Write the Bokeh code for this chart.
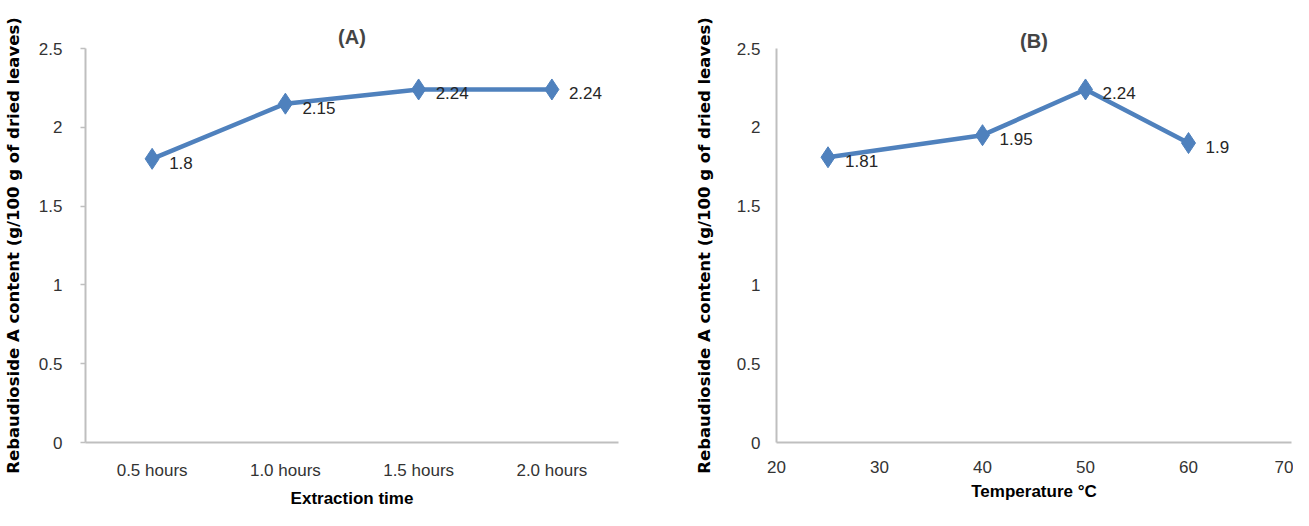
from bokeh.plotting import figure
from bokeh.layouts import row
from bokeh.models import ColumnDataSource, FixedTicker, Title
from bokeh.core.properties import value
from bokeh.embed import file_html
from bokeh.resources import INLINE

# Panel A data
times = ["0.5 hours", "1.0 hours", "1.5 hours", "2.0 hours"]
content_a = [1.8, 2.15, 2.24, 2.24]
labels_a = ["1.8", "2.15", "2.24", "2.24"]

# Panel B data
temps = [25, 40, 50, 60]
content_b = [1.81, 1.95, 2.24, 1.9]
labels_b = ["1.81", "1.95", "2.24", "1.9"]

y_ticks = [0, 0.5, 1, 1.5, 2, 2.5]
x_ticks_b = [20, 30, 40, 50, 60, 70]

BLUE = "#4F81BD"
AXIS = "#BFBFBF"
TICKFONT = "'Liberation Sans Narrow', 'Liberation Sans', sans-serif"
BOLD = "'Liberation Sans', Arial, sans-serif"
YFONT = "'DejaVu Sans', sans-serif"
YLABEL = "Rebaudioside A content (g/100 g of dried leaves)"


def style(p, xlabel):
    p.grid.visible = False
    p.outline_line_color = None
    for ax in (p.xaxis, p.yaxis):
        ax.axis_line_color = AXIS
        ax.axis_line_width = 2
        ax.major_tick_line_color = AXIS
        ax.major_tick_line_width = 1.5
        ax.minor_tick_line_color = None
        ax.major_label_text_font = TICKFONT
        ax.major_label_text_font_size = "17px"
        ax.major_label_text_color = "#333333"
        ax.axis_label_text_font_style = "bold"
        ax.axis_label_text_color = "#000000"
    p.yaxis.ticker = FixedTicker(ticks=y_ticks)
    p.yaxis.axis_label = YLABEL
    p.yaxis.axis_label_text_font = YFONT
    p.yaxis.axis_label_text_font_size = "16.5px"
    p.xaxis.major_tick_out = 0
    p.xaxis.major_tick_in = 0
    p.xaxis.axis_label = xlabel
    p.xaxis.axis_label_text_font = BOLD
    p.xaxis.axis_label_text_font_size = "17px"
    p.xaxis.major_label_standoff = 18
    p.xaxis.axis_label_standoff = 6


def add_series(p, src):
    p.line("x", "y", source=src, line_color=BLUE, line_width=4.5)
    p.scatter("x", "y", source=src, marker="diamond", size=21,
              fill_color=BLUE, line_color=BLUE)
    p.text("x", "y", text="t", source=src, x_offset=17, y_offset=4,
           text_align="left", text_baseline="middle", text_font_size="17px",
           text_font=value(TICKFONT), text_color="#262626")


def add_title(p, txt, standoff):
    p.add_layout(Title(text=txt, align="center", text_font=BOLD,
                       text_font_size="20px", text_font_style="bold",
                       standoff=standoff), "above")


H = 510
TOP = 48
BOTTOM = 68

# ---------- Panel A ----------
pa = figure(width=650, height=H, x_range=times, y_range=(0, 2.5),
            output_backend="svg", toolbar_location=None,
            min_border_left=84, min_border_right=32,
            min_border_top=TOP, min_border_bottom=BOTTOM)
add_title(pa, "(A)", 2)
add_series(pa, ColumnDataSource(dict(x=times, y=content_a, t=labels_a)))
style(pa, "Extraction time")
pa.yaxis.major_tick_out = 5
pa.yaxis.major_tick_in = 0
pa.yaxis.major_label_standoff = 18
pa.yaxis.axis_label_standoff = 13

# ---------- Panel B ----------
pb = figure(width=643, height=H, x_range=(20, 70), y_range=(0, 2.5),
            output_backend="svg", toolbar_location=None,
            min_border_left=126, min_border_right=2,
            min_border_top=TOP, min_border_bottom=BOTTOM)
add_title(pb, "(B)", -6)
add_series(pb, ColumnDataSource(dict(x=temps, y=content_b, t=labels_b)))
style(pb, "Temperature °C")
pb.xaxis.ticker = FixedTicker(ticks=x_ticks_b)
pb.yaxis.major_tick_out = 0
pb.yaxis.major_tick_in = 0
pb.yaxis.major_label_standoff = 16
pb.yaxis.axis_label_standoff = 20

layout = row(pa, pb)
open("out.html", "w").write(file_html(layout, INLINE))
